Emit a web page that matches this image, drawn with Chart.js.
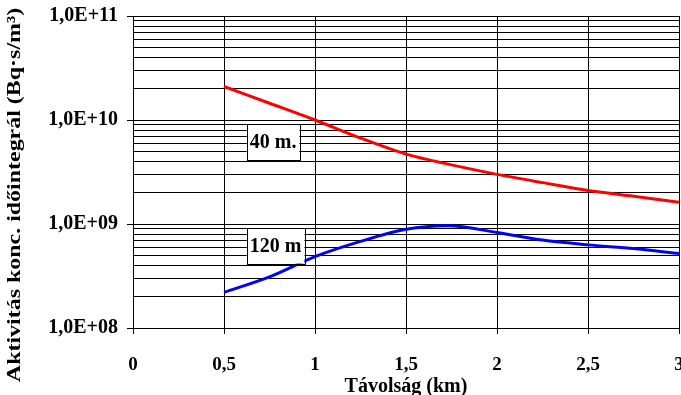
<!DOCTYPE html>
<html>
<head>
<meta charset="utf-8">
<script src="https://cdn.jsdelivr.net/npm/chart.js@4"></script>
<style>
  body { margin: 0; background: #fff; }
  canvas { display: block; }
</style>
</head>
<body>
<canvas id="chart" width="681" height="395"></canvas>
<script>
// distance values (km)
const distances = [0.5, 0.75, 1, 1.25, 1.5, 1.75, 2, 2.25, 2.5, 2.75, 3];
// time integrated activity concentration, 40 m release height
const series40 = [2.1e10, 1.45e10, 1.0e10, 6.7e9, 4.7e9, 3.7e9, 3.0e9, 2.5e9, 2.1e9, 1.85e9, 1.62e9];
// 120 m release height
const series120 = [2.2e8, 3.1e8, 4.85e8, 6.8e8, 8.9e8, 9.6e8, 8.3e8, 7.0e8, 6.3e8, 5.8e8, 5.2e8];

// series label boxes: text, left edge (km), centre (value)
const boxTexts = ['40 m.', '120 m'];
const boxX = [0.625, 0.625];
const boxY = [6.2e9, 6.2e8];

const yTitle = 'Aktivitás konc. időintegrál (Bq·s/m³)';
const fontFamily = "'Liberation Serif', 'Times New Roman', serif";

const isDecade = v => Math.abs(Math.log10(v) - Math.round(Math.log10(v))) < 1e-9;

// Draws the small framed labels next to the curves
const labelBoxes = {
  id: 'labelBoxes',
  afterDatasetsDraw(chart) {
    const { ctx, scales: { x, y } } = chart;
    ctx.save();
    ctx.font = 'bold 20px ' + fontFamily;
    ctx.textBaseline = 'middle';
    boxTexts.forEach((t, i) => {
      const left = x.getPixelForValue(boxX[i]);
      const cy = y.getPixelForValue(boxY[i]);
      const w = ctx.measureText(t).width + 6;
      const h = 36;
      ctx.fillStyle = '#fff';
      ctx.fillRect(left, cy - h / 2, w, h);
      ctx.strokeStyle = '#000';
      ctx.lineWidth = 1;
      ctx.strokeRect(Math.round(left) + 0.5, Math.round(cy - h / 2) + 0.5, Math.round(w), h);
      ctx.fillStyle = '#000';
      ctx.fillText(t, left + 3, cy + 1);
    });
    ctx.restore();
  }
};

// y axis title, drawn a bit stretched like the original
const yAxisTitle = {
  id: 'yAxisTitle',
  afterDraw(chart) {
    const { ctx } = chart;
    ctx.save();
    ctx.translate(15, 195);
    ctx.rotate(-Math.PI / 2);
    ctx.scale(1.26, 1);
    ctx.font = 'bold 19px ' + fontFamily;
    ctx.fillStyle = '#000';
    ctx.textAlign = 'center';
    ctx.textBaseline = 'middle';
    ctx.fillText(yTitle, 0, 0);
    ctx.restore();
  }
};

new Chart(document.getElementById('chart'), {
  type: 'line',
  data: {
    datasets: [
      {
        label: '40 m.',
        data: distances.map((d, i) => ({ x: d, y: series40[i] })),
        borderColor: '#ff0000',
        borderWidth: 3,
        pointRadius: 0,
        tension: 0.3
      },
      {
        label: '120 m',
        data: distances.map((d, i) => ({ x: d, y: series120[i] })),
        borderColor: '#0000ff',
        borderWidth: 3,
        pointRadius: 0,
        tension: 0.3
      }
    ]
  },
  options: {
    responsive: false,
    animation: false,
    layout: { padding: { top: 16, right: 2, left: 0, bottom: 0 } },
    plugins: {
      legend: { display: false },
      tooltip: { enabled: false }
    },
    scales: {
      x: {
        type: 'linear',
        min: 0,
        max: 3,
        ticks: {
          stepSize: 0.5,
          color: '#000',
          padding: 20,
          maxRotation: 0,
          font: { family: fontFamily, size: 19, weight: 'bold' },
          callback: v => String(v).replace('.', ',')
        },
        grid: { color: '#000', lineWidth: 1, tickLength: 6, tickColor: '#000' },
        border: { color: '#000', width: 1 },
        title: {
          display: true,
          text: 'Távolság (km)',
          color: '#000',
          padding: { top: 0, bottom: -4 },
          font: { family: fontFamily, size: 20, weight: 'bold' }
        },
        afterFit: s => { s.height = 67; s.paddingLeft = 0; s.paddingRight = 0; }
      },
      y: {
        type: 'logarithmic',
        min: 1e8,
        max: 1e11,
        afterBuildTicks: s => {
          const ticks = [];
          for (let e = 8; e <= 10; e++) {
            for (let m = 1; m <= 9; m++) ticks.push({ value: m * Math.pow(10, e) });
          }
          ticks.push({ value: 1e11 });
          s.ticks = ticks;
        },
        ticks: {
          color: '#000',
          padding: 9,
          autoSkip: false,
          font: { family: fontFamily, size: 20, weight: 'bold' },
          callback: v => isDecade(v) ? '1,0E+' + String(Math.round(Math.log10(v))).padStart(2, '0') : ''
        },
        grid: {
          color: '#000',
          lineWidth: 1,
          tickLength: 6,
          tickColor: c => (c.tick && isDecade(c.tick.value)) ? '#000' : 'rgba(0,0,0,0)'
        },
        border: { color: '#000', width: 1 },
        title: { display: false },
        afterFit: s => { s.width = 133; s.paddingTop = 0; s.paddingBottom = 0; }
      }
    }
  },
  plugins: [labelBoxes, yAxisTitle]
});
</script>
</body>
</html>
